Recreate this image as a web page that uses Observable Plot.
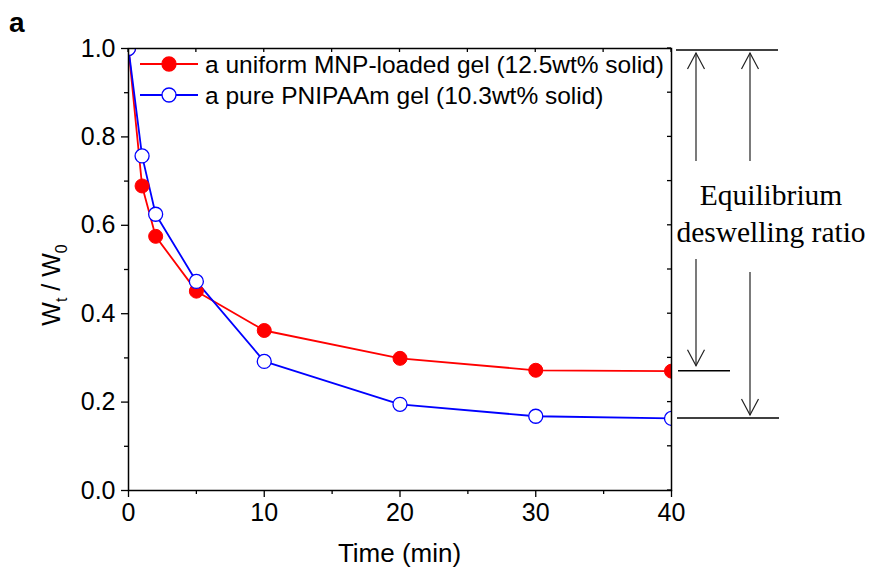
<!DOCTYPE html>
<html>
<head>
<meta charset="utf-8">
<script src="https://cdn.jsdelivr.net/npm/d3@7"></script>
<script src="https://cdn.jsdelivr.net/npm/@observablehq/plot@0.6"></script>
<style>
  html, body { margin: 0; padding: 0; background: #fff; }
  #chart { width: 869px; height: 571px; }
</style>
</head>
<body>
<div id="chart"></div>
<script>
// ---- data ----
const times = [0, 1, 2, 5, 10, 20, 30, 40];
const mnpLoaded = [1.0, 0.689, 0.575, 0.451, 0.362, 0.299, 0.272, 0.270];
const purePnipaam = [1.0, 0.757, 0.625, 0.473, 0.292, 0.195, 0.168, 0.163];
const seriesNames = ["a uniform MNP-loaded gel (12.5wt% solid)", "a pure PNIPAAm gel (10.3wt% solid)"];
const seriesColors = ["#ff0000", "#0000ff"];
const xTicks = [0, 10, 20, 30, 40];
const xMinorTicks = [5, 15, 25, 35];
const yTicks = [0, 0.2, 0.4, 0.6, 0.8, 1.0];
const yMinorTicks = [0.1, 0.3, 0.5, 0.7, 0.9];
const xLabel = "Time (min)";
const annotationLines = ["Equilibrium", "deswelling ratio"];
const panelLabel = "a";

const rows = [];
times.forEach((t, i) => {
  rows.push({t, v: mnpLoaded[i], s: seriesNames[0]});
  rows.push({t, v: purePnipaam[i], s: seriesNames[1]});
});
const redRows = rows.filter(d => d.s === seriesNames[0]);
const blueRows = rows.filter(d => d.s === seriesNames[1]);

function overlay(index, scales, values, dims) {
  const {x, y} = scales;
  const g = d3.create("svg:g").attr("text-anchor", "start");
  const L = x(0), R = x(40), T = y(1), B = y(0);
  // inner ticks on top and right
  [...xTicks, ...xMinorTicks].forEach(t => {
    g.append("line").attr("x1", x(t)).attr("x2", x(t)).attr("y1", T).attr("y2", T + 4)
      .attr("stroke", "black").attr("stroke-width", 1.3);
  });
  [...yTicks, ...yMinorTicks].forEach(t => {
    g.append("line").attr("x1", R).attr("x2", R - 4).attr("y1", y(t)).attr("y2", y(t))
      .attr("stroke", "black").attr("stroke-width", 1.3);
  });
  // axis labels
  g.append("text").attr("x", (L + R) / 2).attr("y", B + 72).attr("text-anchor", "middle")
    .attr("font-size", 26).attr("fill", "black").text(xLabel);
  const yl = g.append("text").attr("transform", `translate(${L - 68},${(T + B) / 2 + 16}) rotate(-90)`)
    .attr("text-anchor", "middle").attr("font-size", 25).attr("fill", "black");
  yl.append("tspan").text("W");
  yl.append("tspan").attr("font-size", 16).attr("dy", 7).text("t");
  yl.append("tspan").attr("dy", -7).text(" / W");
  yl.append("tspan").attr("font-size", 16).attr("dy", 7).text("0");
  // legend
  seriesNames.forEach((name, i) => {
    const ly = T + 16 + i * 31;
    g.append("line").attr("x1", L + 12).attr("x2", L + 70).attr("y1", ly).attr("y2", ly)
      .attr("stroke", seriesColors[i]).attr("stroke-width", 1.8);
    g.append("circle").attr("cx", L + 41).attr("cy", ly).attr("r", 7)
      .attr("fill", i === 0 ? seriesColors[i] : "white").attr("stroke", seriesColors[i]).attr("stroke-width", 1.3);
    g.append("text").attr("x", L + 77).attr("y", ly + 9).attr("text-anchor", "start")
      .attr("font-size", 24.5).attr("fill", "black").text(name);
  });
  // annotation
  const yTop = y(mnpLoaded[0]) + 2;
  const yRed = y(mnpLoaded[mnpLoaded.length - 1]);
  const yBlue = y(purePnipaam[purePnipaam.length - 1]);
  const hl = (x1, x2, yy) => g.append("line").attr("x1", x1).attr("x2", x2).attr("y1", yy).attr("y2", yy)
    .attr("stroke", "black").attr("stroke-width", 1.5);
  hl(R + 5, R + 107, yTop);
  hl(R + 7, R + 59, yRed);
  hl(R + 6, R + 108, yBlue);
  const arrow = (ax, y1, y2) => {
    const dir = y2 < y1 ? 1 : -1;
    g.append("line").attr("x1", ax).attr("x2", ax).attr("y1", y1).attr("y2", y2)
      .attr("stroke", "#222").attr("stroke-width", 1.2);
    g.append("path").attr("d", `M${ax - 8.5},${y2 + dir * 16}L${ax},${y2}L${ax + 8.5},${y2 + dir * 16}`)
      .attr("fill", "none").attr("stroke", "#222").attr("stroke-width", 1.2);
  };
  arrow(R + 25, 161, yTop + 3);
  arrow(R + 79, 161, yTop + 3);
  arrow(R + 25, 259, yRed - 5);
  arrow(R + 79, 272, yBlue - 3);
  annotationLines.forEach((s, i) => {
    g.append("text").attr("x", R + 100).attr("y", 205 + i * 37).attr("text-anchor", "middle")
      .attr("font-family", "'Liberation Serif', 'Times New Roman', serif").attr("font-size", 29.5)
      .attr("fill", "black").text(s);
  });
  // panel label
  g.append("text").attr("x", 9).attr("y", 32).attr("font-size", 28).attr("font-weight", "bold")
    .attr("text-anchor", "start").attr("fill", "black").text(panelLabel);
  return g.node();
}

const chart = Plot.plot({
  width: 869,
  height: 571,
  marginLeft: 128,
  marginRight: 198,
  marginTop: 48,
  marginBottom: 81,
  x: {domain: [0, 40]},
  y: {domain: [0, 1]},
  style: {fontFamily: "'Liberation Sans', Arial, sans-serif", background: "white", color: "black"},
  marks: [
    Plot.axisX(xTicks, {tickSize: 7, tickPadding: 6, fontSize: 25, label: null, strokeWidth: 1.3, tickFormat: d => d}),
    Plot.axisX(xMinorTicks, {tickSize: 4, tickFormat: () => "", label: null, strokeWidth: 1.3}),
    Plot.axisY(yTicks, {tickSize: 7, tickPadding: 6, fontSize: 25, label: null, strokeWidth: 1.3, tickFormat: d3.format(".1f")}),
    Plot.axisY(yMinorTicks, {tickSize: 4, tickFormat: () => "", label: null, strokeWidth: 1.3}),
    Plot.line(redRows, {x: "t", y: "v", stroke: seriesColors[0], strokeWidth: 1.8, clip: "frame"}),
    Plot.line(blueRows, {x: "t", y: "v", stroke: seriesColors[1], strokeWidth: 1.8, clip: "frame"}),
    Plot.dot(redRows, {x: "t", y: "v", r: 7, fill: seriesColors[0], stroke: seriesColors[0], strokeWidth: 1, clip: "frame"}),
    Plot.dot(blueRows, {x: "t", y: "v", r: 7, fill: "white", stroke: seriesColors[1], strokeWidth: 1.3, clip: "frame"}),
    Plot.frame({stroke: "black", strokeWidth: 1.5}),
    overlay
  ]
});
document.getElementById("chart").appendChild(chart);
</script>
</body>
</html>
